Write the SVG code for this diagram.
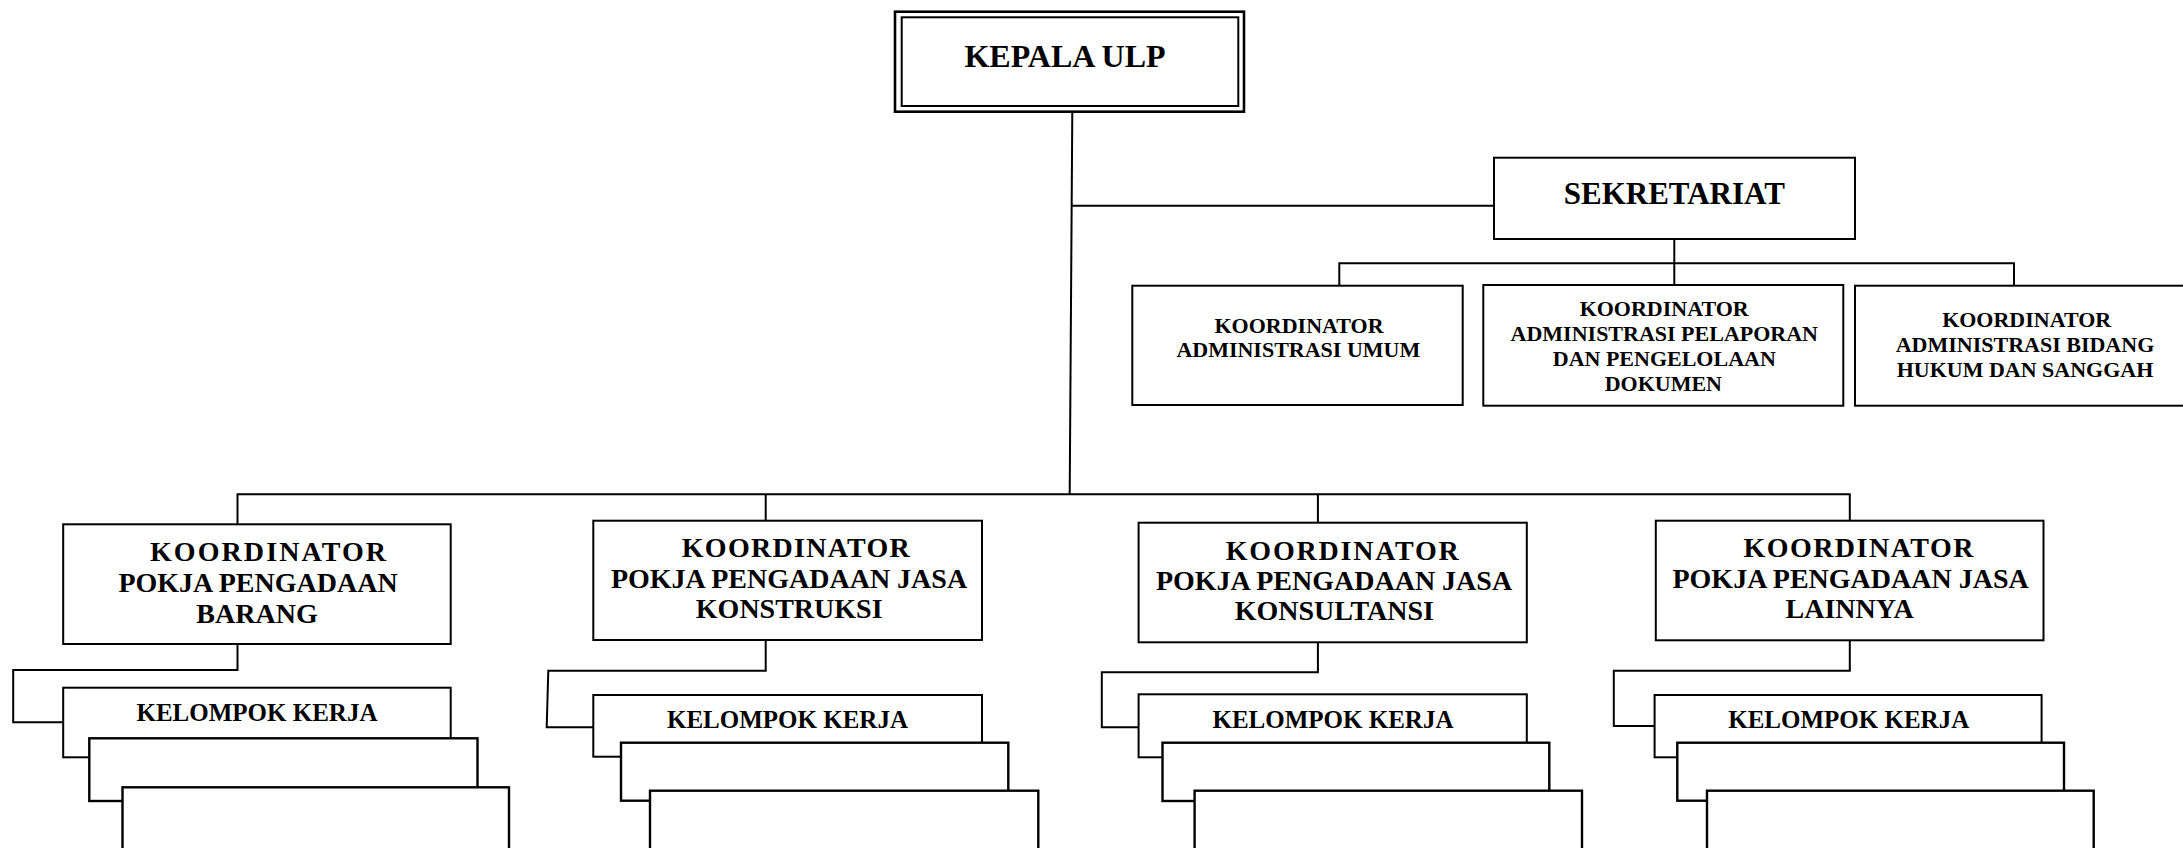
<svg xmlns="http://www.w3.org/2000/svg" width="2183" height="848" viewBox="0 0 2183 848">
<style>
.box{fill:#fff;stroke:#000;stroke-width:2}
.stk{fill:#fff;stroke:#000;stroke-width:2.4}
.ln{fill:none;stroke:#000;stroke-width:2}
text{font-family:"Liberation Serif","Times New Roman",serif;font-weight:bold;fill:#000;text-anchor:middle}
.t32{font-size:32px}
.t31{font-size:31px}
.t28{font-size:28px}
.t25{font-size:25px}
.t22{font-size:22px}
</style>
<rect width="2183" height="848" fill="#fff"/>
<g id="connectors">
<path class="ln" d="M1072.3,112 L1069.7,494.3"/>
<path class="ln" d="M1071,205.7 H1494"/>
<path class="ln" d="M1674.3,239 V285"/>
<path class="ln" d="M1339.3,285.7 V263.3 H2014 V285.7"/>
<path class="ln" d="M237.5,524.3 V494.3 H1849.8 V520.7"/>
<path class="ln" d="M765.7,494.3 V520.7"/>
<path class="ln" d="M1317.9,494.3 V522.7"/>
<path class="ln" d="M237.5,644 V670 H13.2 V722.3 H63.2"/>
<path class="ln" d="M765.7,640 V670.7 H548.3 L546.7,727.3 H593.3"/>
<path class="ln" d="M1317.9,642.3 V672.3 H1101.8 V727.3 H1138.6"/>
<path class="ln" d="M1849.8,640.3 V670.7 H1613.8 V726 H1655"/>
</g>
<g id="kepala">
<rect x="895" y="11.7" width="349" height="100" fill="#fff" stroke="#000" stroke-width="2.6"/>
<rect x="901.7" y="17.3" width="336.6" height="88.7" fill="none" stroke="#000" stroke-width="2"/>
<text class="t32" x="1065" y="66.7">KEPALA ULP</text>
</g>
<g id="sekretariat">
<rect class="box" x="1494" y="157.7" width="361" height="81.3"/>
<text class="t31" x="1674.3" y="204.3">SEKRETARIAT</text>
</g>
<g id="adm-umum">
<rect class="box" x="1132.3" y="285.7" width="330.4" height="119.3"/>
<text class="t22" x="1299" y="332.7">KOORDINATOR</text>
<text class="t22" x="1298.3" y="356.7">ADMINISTRASI UMUM</text>
</g>
<g id="adm-pelaporan">
<rect class="box" x="1483.3" y="285" width="360" height="120.7"/>
<text class="t22" x="1664.2" y="316">KOORDINATOR</text>
<text class="t22" x="1664.3" y="341">ADMINISTRASI PELAPORAN</text>
<text class="t22" x="1664.3" y="366">DAN PENGELOLAAN</text>
<text class="t22" x="1663.3" y="390.7">DOKUMEN</text>
</g>
<g id="adm-hukum">
<rect class="box" x="1855" y="285.7" width="340" height="120"/>
<text class="t22" x="2026.7" y="327.3">KOORDINATOR</text>
<text class="t22" x="2025" y="352.3">ADMINISTRASI BIDANG</text>
<text class="t22" x="2025" y="376.7">HUKUM DAN SANGGAH</text>
</g>
<g id="pokja-barang">
<rect class="box" x="63.2" y="524.3" width="387.5" height="119.7"/>
<text class="t28" x="268" y="560.7" textLength="236" lengthAdjust="spacing">KOORDINATOR</text>
<text class="t28" x="258" y="591.7">POKJA PENGADAAN</text>
<text class="t28" x="257" y="622.7">BARANG</text>
</g>
<g id="pokja-konstruksi">
<rect class="box" x="593.3" y="520.7" width="388.7" height="119.3"/>
<text class="t28" x="795.8" y="557.3" textLength="228" lengthAdjust="spacing">KOORDINATOR</text>
<text class="t28" x="789" y="588.3">POKJA PENGADAAN JASA</text>
<text class="t28" x="789.2" y="618.3">KONSTRUKSI</text>
</g>
<g id="pokja-konsultansi">
<rect class="box" x="1138.6" y="522.7" width="388.2" height="119.6"/>
<text class="t28" x="1342.3" y="560" textLength="233" lengthAdjust="spacing">KOORDINATOR</text>
<text class="t28" x="1334" y="590">POKJA PENGADAAN JASA</text>
<text class="t28" x="1334.3" y="620">KONSULTANSI</text>
</g>
<g id="pokja-lainnya">
<rect class="box" x="1655.8" y="520.7" width="387.7" height="119.6"/>
<text class="t28" x="1858.4" y="557.3" textLength="230" lengthAdjust="spacing">KOORDINATOR</text>
<text class="t28" x="1850.6" y="588.3">POKJA PENGADAAN JASA</text>
<text class="t28" x="1849.6" y="618.3">LAINNYA</text>
</g>
<g id="kelompok-barang">
<rect class="box" x="63.2" y="687.7" width="387.5" height="69.6"/>
<text class="t25" x="257" y="720.7">KELOMPOK KERJA</text>
<rect class="stk" x="89.3" y="738.3" width="388.2" height="62.7"/>
<rect class="stk" x="122.5" y="787.3" width="386.5" height="80"/>
</g>
<g id="kelompok-konstruksi">
<rect class="box" x="593.3" y="695" width="388.7" height="61.7"/>
<text class="t25" x="787.5" y="728.3">KELOMPOK KERJA</text>
<rect class="stk" x="621" y="742.7" width="387.3" height="58"/>
<rect class="stk" x="650" y="790.7" width="388.3" height="80"/>
</g>
<g id="kelompok-konsultansi">
<rect class="box" x="1138.6" y="694.3" width="388.2" height="63"/>
<text class="t25" x="1333" y="728.3">KELOMPOK KERJA</text>
<rect class="stk" x="1162.5" y="742.7" width="386.8" height="58.3"/>
<rect class="stk" x="1194.6" y="790.7" width="387.4" height="80"/>
</g>
<g id="kelompok-lainnya">
<rect class="box" x="1654.6" y="695" width="387" height="62.3"/>
<text class="t25" x="1848.7" y="728.3">KELOMPOK KERJA</text>
<rect class="stk" x="1677.3" y="742.7" width="386.7" height="58"/>
<rect class="stk" x="1707" y="790.7" width="386.7" height="80"/>
</g>
</svg>
